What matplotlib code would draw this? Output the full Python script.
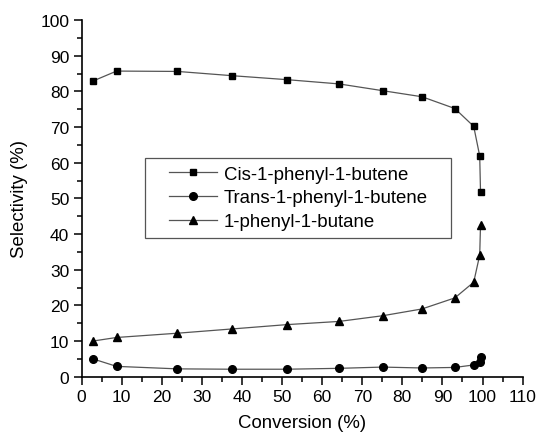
import matplotlib
matplotlib.use("Agg")
import matplotlib.pyplot as plt
from matplotlib.patches import Rectangle
from matplotlib.ticker import MultipleLocator

plt.rcParams['font.family'] = ['Liberation Sans', 'DejaVu Sans']

# Conversion (%) at each sampling point
conversion = [2.8, 8.7, 23.9, 37.6, 51.1, 64.2, 75.1, 84.9, 93.1, 97.8, 99.3, 99.5]

# Selectivity (%) per product
cis = [82.9, 85.7, 85.6, 84.4, 83.3, 82.1, 80.2, 78.5, 75.2, 70.2, 61.9, 51.9]
trans = [5.0, 2.9, 2.2, 2.1, 2.1, 2.35, 2.7, 2.45, 2.6, 3.3, 4.1, 5.5]
butane = [10.0, 11.0, 12.2, 13.4, 14.6, 15.5, 17.1, 19.0, 22.1, 26.5, 34.1, 42.5]

labels = ["Cis-1-phenyl-1-butene", "Trans-1-phenyl-1-butene", "1-phenyl-1-butane"]

fig = plt.figure(figsize=(5.36, 4.39), dpi=100)
ax = fig.add_axes([0.1524, 0.1396, 0.8226, 0.8124])

line_kw = dict(color='#555555', lw=0.9, mfc='black', mec='black')
ax.plot(conversion, cis, marker='s', ms=5, label=labels[0], **line_kw)
ax.plot(conversion, trans, marker='o', ms=5.5, label=labels[1], **line_kw)
ax.plot(conversion, butane, marker='^', ms=6, label=labels[2], **line_kw)

ax.set_xlim(0, 110)
ax.set_ylim(0, 100)
ax.xaxis.set_major_locator(MultipleLocator(10))
ax.xaxis.set_minor_locator(MultipleLocator(5))
ax.yaxis.set_major_locator(MultipleLocator(10))
ax.yaxis.set_minor_locator(MultipleLocator(5))
ax.tick_params(which='major', direction='out', length=6, width=1.1,
               labelsize=12.5, pad=3)
ax.tick_params(which='minor', direction='out', length=3.5, width=1.1)

for s in ['top', 'right']:
    ax.spines[s].set_visible(False)
for s in ['left', 'bottom']:
    ax.spines[s].set_linewidth(1.2)

ax.set_xlabel("Conversion (%)", fontsize=13.4, labelpad=7)
ax.set_ylabel("Selectivity (%)", fontsize=13.4, labelpad=9)

# legend without its own frame; the box gets extra room on the sides
leg = ax.legend(loc='upper left', bbox_to_anchor=(0.181, 0.613), fontsize=13.4,
                frameon=False, handlelength=2.6, borderpad=0.4,
                labelspacing=0.37, borderaxespad=0, handletextpad=0.35)
fig.canvas.draw()
bb = leg.get_window_extent()
side = 16
(x0, y0), (x1, y1) = fig.transFigure.inverted().transform(
    [(bb.x0 - side, bb.y0), (bb.x1 + side, bb.y1)])
fig.add_artist(Rectangle((x0, y0), x1 - x0, y1 - y0, transform=fig.transFigure,
                         fill=False, edgecolor='#555555', lw=0.9))

fig.savefig("out.png", dpi=100)
